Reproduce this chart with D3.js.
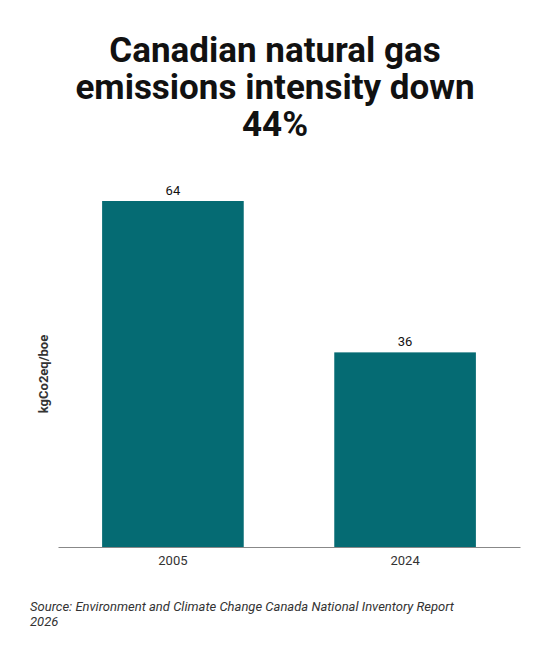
<!DOCTYPE html>
<html>
<head>
<meta charset="utf-8">
<script src="https://cdn.jsdelivr.net/npm/d3@7"></script>
<style>
  body { margin: 0; background: #fff; font-family: Roboto, sans-serif; }
</style>
</head>
<body>
<div id="chart"></div>
<script>
var years = ["2005", "2024"];
var intensity = [64, 36];
var titleLines = ["Canadian natural gas", "emissions intensity down", "44%"];
var sourceLines = ["Source: Environment and Climate Change Canada National Inventory Report", "2026"];

var W = 550, H = 658;
var margin = {top: 201, right: 30, bottom: 111, left: 58};
var width = W - margin.left - margin.right,
    height = H - margin.top - margin.bottom;

var svg = d3.select("#chart").append("svg")
    .attr("width", W)
    .attr("height", H);

// title
svg.append("text")
    .attr("x", W / 2)
    .attr("text-anchor", "middle")
    .attr("font-size", 35)
    .attr("font-weight", 700)
    .attr("fill", "#111")
    .selectAll("tspan")
    .data(titleLines)
    .join("tspan")
    .attr("x", W / 2)
    .attr("y", (d, i) => 62 + i * 37)
    .text(d => d);

var g = svg.append("g")
    .attr("transform", "translate(" + margin.left + "," + margin.top + ")");

var x = d3.scaleBand().domain(years).range([0, width])
    .paddingInner(0.39).paddingOuter(0.19);
var y = d3.scaleLinear().domain([0, 64]).range([height, 0]);

var data = years.map((d, i) => ({year: d, value: intensity[i]}));

g.selectAll("rect")
    .data(data)
    .join("rect")
    .attr("x", d => x(d.year))
    .attr("y", d => y(d.value))
    .attr("width", x.bandwidth())
    .attr("height", d => height - y(d.value))
    .attr("fill", "#056b73");

g.selectAll(".val")
    .data(data)
    .join("text")
    .attr("class", "val")
    .attr("x", d => x(d.year) + x.bandwidth() / 2)
    .attr("y", d => y(d.value) - 6)
    .attr("text-anchor", "middle")
    .attr("font-size", 13)
    .attr("fill", "#111")
    .text(d => d.value);

var xAxis = g.append("g")
    .attr("transform", "translate(0," + height + ")")
    .call(d3.axisBottom(x).tickSize(0).tickPadding(9));
xAxis.select(".domain").attr("stroke", "#888");
xAxis.selectAll("text").attr("font-size", 13).attr("font-family", "Roboto, sans-serif").attr("fill", "#333");

svg.append("text")
    .attr("transform", "translate(48," + (margin.top + height / 2 + 0) + ") rotate(-90)")
    .attr("text-anchor", "middle")
    .attr("font-size", 13)
    .attr("font-weight", 700)
    .attr("fill", "#333")
    .text("kgCo2eq/boe");

svg.append("text")
    .attr("font-size", 13)
    .attr("font-style", "italic")
    .attr("fill", "#333")
    .selectAll("tspan")
    .data(sourceLines)
    .join("tspan")
    .attr("x", 30)
    .attr("y", (d, i) => 611 + i * 15)
    .text(d => d);
</script>
</body>
</html>
